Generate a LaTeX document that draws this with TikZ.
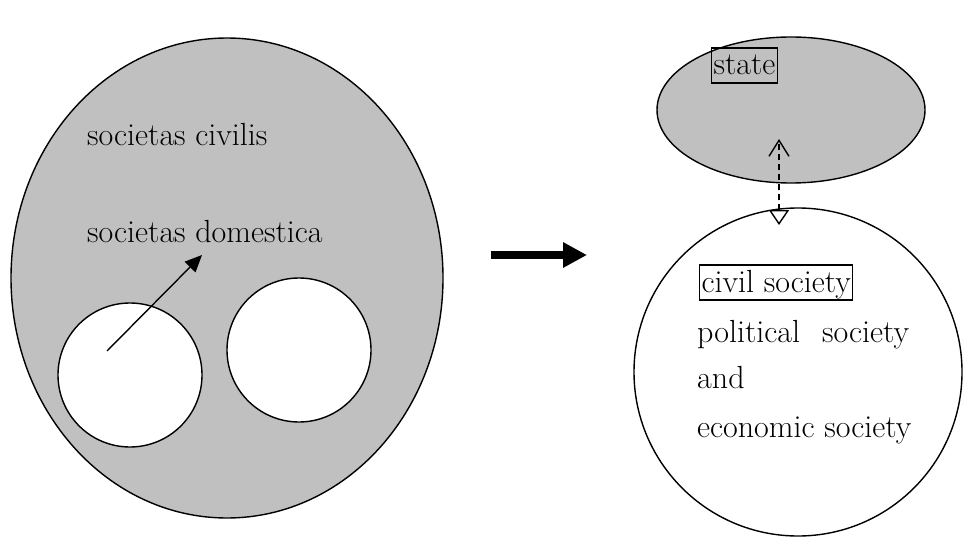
\documentclass[tikz,border=0pt]{standalone}
\usepackage{tikz}
\usetikzlibrary{arrows.meta}
\definecolor{fillgray}{RGB}{192,192,192}
\tikzset{
  txt/.style={anchor=base west, inner sep=0pt, font=\fontsize{32}{38}\selectfont},
  boxed/.style={txt, draw, line width=1.3pt, inner xsep=2pt, inner ysep=1.5pt,
    text height=25.5pt, text depth=6.5pt},
  outline/.style={line width=1.4pt}
}
\begin{document}
\begin{tikzpicture}[x=1pt, y=-1pt]
        \useasboundingbox (0,0) rectangle (963,540);
        % Old order: societas civilis with households inside
        \filldraw[fill=fillgray, draw=black, outline] (227,278) ellipse (216 and 240);
        \filldraw[fill=white, draw=black, outline] (130,375) circle (72);
        \filldraw[fill=white, draw=black, outline] (299,350) circle (72);
        \node[txt] (civilis) at (87,146) {societas civilis};
        \node[txt] (domestica) at (87,242) {societas domestica};
        \coordinate (house) at (107,351);
        \coordinate (up) at (202,255);
        \draw[outline, -{Triangle[length=17pt,width=15pt]}] (house) -- (up);
        % Transition
        \coordinate (from) at (491,255);
        \coordinate (to) at (587,255);
        \draw[line width=8pt, -{Triangle[length=24pt,width=24pt]}] (from) -- (to);
        % New order: state and civil society
        \filldraw[fill=fillgray, draw=black, outline] (791,110) ellipse (134 and 73);
        \draw[outline] (798,372) circle (164);
        \node[boxed] (state) at (711,75) {state};
        \node[boxed] (civil) at (699,292) {civil society};
        \node[txt] (political) at (697,342) {\makebox[212pt][s]{political\hfill society}};
        \node[txt] (and) at (697,388) {and};
        \node[txt] (economic) at (697,437) {economic society};
        % Relation between the two
        \coordinate (low) at (779,225);
        \coordinate (high) at (779,139);
        \draw[outline, dash pattern=on 6pt off 4pt,
          {Triangle[open,length=15pt,width=20pt]}-{Straight Barb[length=16pt,width=20pt]}] (low) -- (high);
\end{tikzpicture}
\end{document}
